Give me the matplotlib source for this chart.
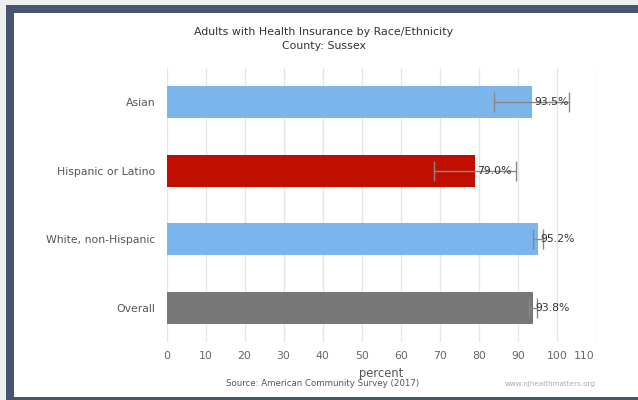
import matplotlib
matplotlib.use("Agg")
import matplotlib.pyplot as plt
from matplotlib.patches import Rectangle

categories = ["Asian", "Hispanic or Latino", "White, non-Hispanic", "Overall"]
values = [93.5, 79.0, 95.2, 93.8]
err_low = [83.8, 68.4, 93.9, 92.8]
err_high = [103.2, 89.6, 96.5, 94.8]
colors = ["#7cb5ec", "#c00f00", "#7cb5ec", "#777777"]
xticks = [0, 10, 20, 30, 40, 50, 60, 70, 80, 90, 100, 110]

W, H = 638, 400
fig = plt.figure(figsize=(W / 100, H / 100), dpi=100)
fig.patch.set_facecolor("#eeeeee")

# frame: dark band on left, top and bottom, white inside
def px_rect(x0, y0, x1, y1, color):
    fig.patches.append(Rectangle((x0 / W, 1 - y1 / H), (x1 - x0) / W, (y1 - y0) / H,
                                 transform=fig.transFigure, facecolor=color,
                                 edgecolor="none", zorder=-10))

px_rect(6, 5, W, H, "#46566e")
px_rect(14, 13, W, 397, "white")

ax = fig.add_axes([166.5 / W, 1 - 342 / H, (596 - 166.5) / W, (342 - 68) / H])
ax.set_facecolor("none")
ax.set_zorder(5)

ypos = list(range(len(categories)))
ax.barh(ypos, values, height=0.47, color=colors, zorder=2)

xerr = [[v - lo for v, lo in zip(values, err_low)],
        [hi - v for v, hi in zip(values, err_high)]]
ax.errorbar(values, ypos, xerr=xerr, fmt="none", ecolor="#888888",
            elinewidth=1, capsize=7, capthick=1, zorder=3)

for y, v in zip(ypos, values):
    ax.text(v + 0.6, y, "%.1f%%" % v, va="center", ha="left", fontsize=7.8,
            color="#333333", zorder=4)

ax.set_xlim(0, 110)
ax.set_ylim(3.5, -0.5)
ax.set_xticks(xticks)
# last label is pulled inside the plot, like the original
ax.set_xticklabels([str(t) for t in xticks[:-1]] + [""], fontsize=7.8, color="#666666")
ax.annotate(str(xticks[-1]), xy=(106.9, 0), xycoords=("data", "axes fraction"),
            xytext=(0, -6.5), textcoords="offset points", ha="center", va="top",
            fontsize=7.8, color="#666666", annotation_clip=False)
ax.set_yticks(ypos)
ax.set_yticklabels(categories, fontsize=7.8, color="#555555")
ax.tick_params(axis="y", length=0, pad=8)
ax.tick_params(axis="x", length=0, pad=6.5)
ax.grid(axis="x", color="#e6e6e6", linewidth=1, zorder=0)
for s in ax.spines.values():
    s.set_visible(False)

fig.text(381 / W, 1 - 373 / H, "percent", ha="center", va="center", fontsize=8.3, color="#555555")
fig.text(323 / W, 1 - 384 / H, "Source: American Community Survey (2017)", ha="center",
         va="center", fontsize=6.2, color="#555555")
fig.text(596 / W, 1 - 384 / H, "www.njhealthmatters.org", ha="right", va="center",
         fontsize=5.2, color="#aaaaaa")

fig.text(324 / W, 1 - 32 / H, "Adults with Health Insurance by Race/Ethnicity", ha="center",
         va="center", fontsize=7.9, color="#333333")
fig.text(324 / W, 1 - 46 / H, "County: Sussex", ha="center", va="center", fontsize=7.9,
         color="#333333")

fig.savefig("out.png", dpi=100, facecolor=fig.get_facecolor())
